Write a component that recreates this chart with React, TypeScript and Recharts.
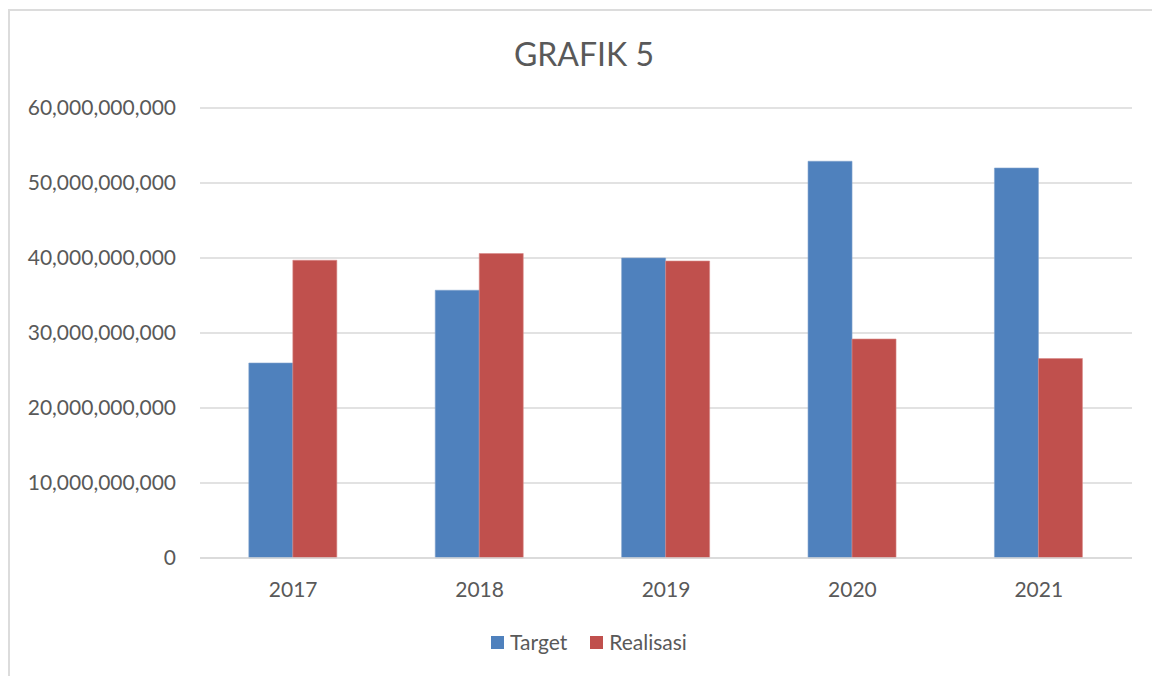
import React from 'react';
import { BarChart, Bar, XAxis, YAxis, CartesianGrid, Legend } from 'recharts';

const years = ['2017', '2018', '2019', '2020', '2021'];
const target = [26.0e9, 35.7e9, 40.0e9, 52.9e9, 52.0e9];
const realisasi = [39.7e9, 40.6e9, 39.6e9, 29.2e9, 26.6e9];
const yTicks = [0, 10e9, 20e9, 30e9, 40e9, 50e9, 60e9];
const seriesNames = ['Target', 'Realisasi'];
const titleText = 'GRAFIK 5';

const data = years.map((y, i) => ({ year: y, Target: target[i], Realisasi: realisasi[i] }));

const FONT = 'Lato, "Open Sans", sans-serif';
const TEXT = '#595959';
const GRID = '#d9d9d9';
const BLUE = '#4F81BD';
const RED = '#C0504D';

const fmt = (v: number) => v.toLocaleString('en-US');

const LegendContent = (props: any) => {
  const payload = [...(props.payload || [])].sort(
    (a: any, b: any) => seriesNames.indexOf(a.value) - seriesNames.indexOf(b.value)
  );
  return (
    <div
      style={{
        height: 26,
        display: 'flex',
        justifyContent: 'center',
        alignItems: 'center',
        paddingLeft: 46,
        fontFamily: FONT,
        fontSize: 21,
        color: TEXT,
      }}
    >
      {payload.map((p: any, i: number) => (
        <div key={i} style={{ display: 'flex', alignItems: 'center', marginLeft: i > 0 ? 23 : 0 }}>
          <div style={{ width: 13, height: 13, background: p.color, marginRight: 6 }} />
          <span style={{ lineHeight: '26px' }}>{p.value}</span>
        </div>
      ))}
    </div>
  );
};

export default function App() {
  return (
    <div style={{ position: 'absolute', left: 0, top: 0, width: 1152, height: 676, background: '#fff', overflow: 'hidden' }}>
      <div
        style={{
          position: 'absolute',
          left: 8,
          top: 9,
          width: 1200,
          height: 700,
          borderLeft: '2px solid #dcdcdc',
          borderTop: '2px solid #dcdcdc',
        }}
      />
      <div
        style={{
          position: 'absolute',
          left: 384,
          width: 400,
          top: 37.6,
          textAlign: 'center',
          fontFamily: FONT,
          fontSize: 32,
          lineHeight: '32px',
          color: TEXT,
        }}
      >
        {titleText}
      </div>
      <div style={{ position: 'absolute', left: 0, top: 0 }}>
        <BarChart
          width={1152}
          height={676}
          data={data}
          margin={{ top: 108, right: 20, bottom: 21, left: 0 }}
          barCategoryGap="26.2%"
          barGap={0}
        >
          <CartesianGrid vertical={false} stroke={GRID} strokeWidth={1.5} />
          <XAxis
            dataKey="year"
            height={71}
            tickLine={false}
            tickMargin={18}
            axisLine={{ stroke: GRID, strokeWidth: 1.5 }}
            tick={{ fill: TEXT, fontSize: 21, fontFamily: FONT }}
          />
          <YAxis
            width={200}
            domain={[0, 60e9]}
            ticks={yTicks}
            tickFormatter={fmt}
            axisLine={false}
            tickLine={false}
            tickMargin={18}
            tick={{ fill: TEXT, fontSize: 21, fontFamily: FONT }}
          />
          <Legend verticalAlign="bottom" content={<LegendContent />} />
          <Bar dataKey="Target" fill={BLUE} stroke="#7fa3cf" strokeWidth={0.6} isAnimationActive={false} />
          <Bar dataKey="Realisasi" fill={RED} stroke="#d88a88" strokeWidth={0.6} isAnimationActive={false} />
        </BarChart>
      </div>
    </div>
  );
}
